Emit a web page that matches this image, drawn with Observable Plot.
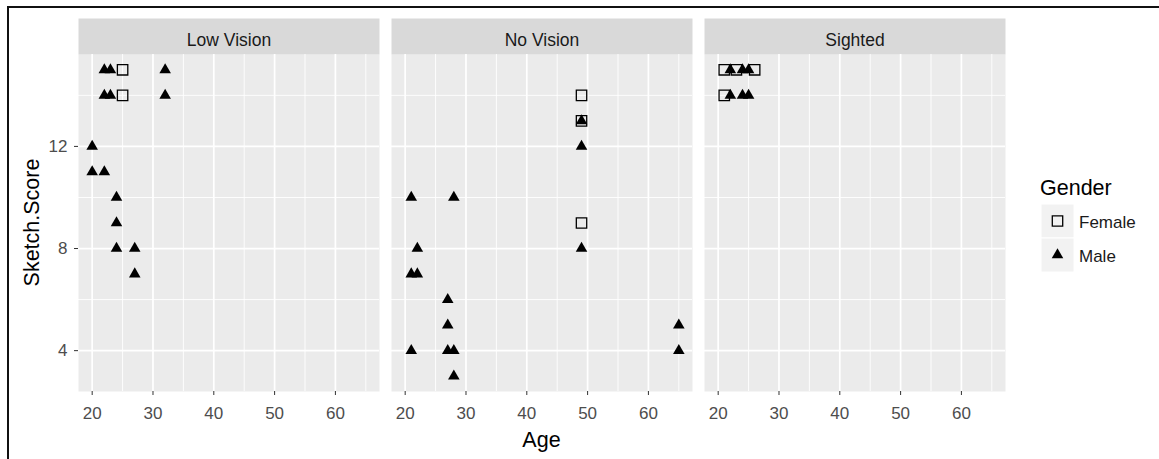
<!DOCTYPE html>
<html>
<head>
<meta charset="utf-8">
<script src="https://cdn.jsdelivr.net/npm/d3@7"></script>
<script src="https://cdn.jsdelivr.net/npm/@observablehq/plot@0.6"></script>
<style>
  html, body { margin: 0; padding: 0; background: #fff; }
  #figure { position: relative; width: 1159px; height: 459px; overflow: hidden; font-family: "Liberation Sans", Arial, sans-serif; }
  #chart { position: absolute; left: 0; top: 0; }
  #edge { position: absolute; left: 7px; top: 6px; right: -10px; bottom: -10px; border-top: 2px solid #111; border-left: 2px solid #111; pointer-events: none; }
</style>
</head>
<body>
<div id="figure">
  <div id="chart"></div>
  <div id="edge"></div>
</div>
<script>
// Facet panels and legend entries
const visionGroups = ["Low Vision", "No Vision", "Sighted"];
const genders = ["Female", "Male"];

// Low Vision participants
const lowVisionAge    = [22, 23, 25, 32, 22, 23, 25, 32, 20, 20, 22, 24, 24, 24, 27, 27];
const lowVisionScore  = [15, 15, 15, 15, 14, 14, 14, 14, 12, 11, 11, 10, 9, 8, 8, 7];
const lowVisionGender = ["Male", "Male", "Female", "Male", "Male", "Male", "Female", "Male",
                         "Male", "Male", "Male", "Male", "Male", "Male", "Male", "Male"];

// No Vision participants
const noVisionAge    = [21, 28, 22, 21, 22, 27, 27, 21, 27, 28, 28, 49, 49, 49, 49, 49, 49, 65, 65];
const noVisionScore  = [10, 10, 8, 7, 7, 6, 5, 4, 4, 4, 3, 14, 13, 13, 12, 9, 8, 5, 4];
const noVisionGender = ["Male", "Male", "Male", "Male", "Male", "Male", "Male", "Male", "Male", "Male",
                        "Male", "Female", "Female", "Male", "Male", "Female", "Male", "Male", "Male"];

// Sighted participants
const sightedAge    = [21, 22, 23, 24, 25, 26, 21, 22, 24, 25];
const sightedScore  = [15, 15, 15, 15, 15, 15, 14, 14, 14, 14];
const sightedGender = ["Female", "Male", "Female", "Male", "Male", "Female", "Female", "Male", "Male", "Male"];

// Axis ticks and grid
const xTicks = [20, 30, 40, 50, 60];
const xMinor = [25, 35, 45, 55, 65];
const yTicks = [4, 8, 12];
const yMinor = [6, 10, 14];

const rows = [];
function addGroup(group, ages, scores, sexes) {
  ages.forEach((a, i) => rows.push({vision: group, age: a, score: scores[i], gender: sexes[i]}));
}
addGroup("Low Vision", lowVisionAge, lowVisionScore, lowVisionGender);
addGroup("No Vision", noVisionAge, noVisionScore, noVisionGender);
addGroup("Sighted", sightedAge, sightedScore, sightedGender);

// ggplot-like expansion (5% of the data range on each side)
function expand(values) {
  const [lo, hi] = d3.extent(values);
  const pad = (hi - lo) * 0.05;
  return [lo - pad, hi + pad];
}
const xDomain = expand(rows.map(d => d.age));
const yDomain = expand(rows.map(d => d.score));

const W = 1159, H = 459;
const mL = 78, mR = 154, mT = 54, mB = 68;
const stripH = 36;
const panelH = H - mT - mB;
const FONT = "'Liberation Sans', Arial, sans-serif";

const symbolFor = {Female: "square", Male: "triangle"};
const radiusFor = {Female: 5.87, Male: 4.3};

const chart = Plot.plot({
  width: W,
  height: H,
  marginLeft: mL, marginRight: mR, marginTop: mT, marginBottom: mB,
  facet: {marginTop: 0, marginRight: 0, marginBottom: 0, marginLeft: 0},
  style: {fontFamily: FONT, background: "transparent", overflow: "visible"},
  fx: {domain: visionGroups, paddingInner: 0.0385, paddingOuter: 0, axis: null, label: null},
  x: {domain: xDomain},
  y: {domain: yDomain},
  marks: [
    // panel background and strip
    Plot.frame({fill: "#EBEBEB"}),
    Plot.frame({fill: "#D9D9D9", insetTop: -stripH, insetBottom: panelH}),
    // minor and major grid lines
    Plot.gridX(xMinor, {stroke: "#fff", strokeOpacity: 1, strokeWidth: 0.9}),
    Plot.gridY(yMinor, {stroke: "#fff", strokeOpacity: 1, strokeWidth: 0.9}),
    Plot.gridX(xTicks, {stroke: "#fff", strokeOpacity: 1, strokeWidth: 1.7}),
    Plot.gridY(yTicks, {stroke: "#fff", strokeOpacity: 1, strokeWidth: 1.7}),
    // axes
    Plot.axisX(xTicks, {tickSize: 4, tickPadding: 11, fontSize: 17, stroke: "#333", fill: "#4D4D4D", label: null}),
    Plot.axisY(yTicks, {tickSize: 4, tickPadding: 7, fontSize: 17, stroke: "#333", fill: "#4D4D4D", label: null}),
    // strip labels
    Plot.text(visionGroups, {fx: d => d, text: d => d, frameAnchor: "top", lineAnchor: "middle",
                             dy: -14.5, fontSize: 17.5, fill: "#1A1A1A"}),
    // participants
    Plot.dot(rows.filter(d => d.gender === "Female"), {
      fx: "vision", x: "age", y: "score", symbol: symbolFor.Female, r: radiusFor.Female,
      stroke: "#000", strokeWidth: 1.3, fill: "none"
    }),
    Plot.dot(rows.filter(d => d.gender === "Male"), {
      fx: "vision", x: "age", y: "score", symbol: symbolFor.Male, r: radiusFor.Male,
      fill: "#000", stroke: "none"
    })
  ]
});

document.getElementById("chart").appendChild(chart);

// Axis titles, centred on the panel area
const svg = d3.select(chart);
const fxRange = chart.scale("fx").range;
const yRange = chart.scale("y").range;
const centerX = (fxRange[0] + fxRange[1]) / 2;
const centerY = (yRange[0] + yRange[1]) / 2;

svg.append("text")
  .attr("x", centerX).attr("y", 446.5)
  .attr("text-anchor", "middle")
  .attr("font-family", FONT).attr("font-size", 21.5).attr("fill", "#000")
  .text("Age");

svg.append("text")
  .attr("transform", `translate(38.5,${centerY}) rotate(-90)`)
  .attr("text-anchor", "middle")
  .attr("font-family", FONT).attr("font-size", 21.5).attr("fill", "#000")
  .text("Sketch.Score");

// Gender legend
const legend = svg.append("g").attr("font-family", FONT).attr("text-anchor", "start");
legend.append("text")
  .attr("x", 1040).attr("y", 195)
  .attr("text-anchor", "start")
  .attr("font-size", 21.5).attr("fill", "#000")
  .text("Gender");

const keyX = 1041, keyY = 204, keySize = 34;
const d3Symbols = {square: d3.symbolSquare, triangle: d3.symbolTriangle};
genders.forEach((g, i) => {
  const y0 = keyY + i * keySize;
  legend.append("rect")
    .attr("x", keyX).attr("y", y0).attr("width", keySize - 1).attr("height", keySize)
    .attr("fill", "#F2F2F2").attr("stroke", "#fff").attr("stroke-width", 1);
  const path = d3.symbol().type(d3Symbols[symbolFor[g]]).size(Math.PI * radiusFor[g] ** 2)();
  const sym = legend.append("path")
    .attr("d", path)
    .attr("transform", `translate(${keyX + (keySize - 1) / 2},${y0 + keySize / 2})`);
  if (g === "Female") sym.attr("fill", "none").attr("stroke", "#000").attr("stroke-width", 1.3);
  else sym.attr("fill", "#000");
  legend.append("text")
    .attr("x", 1079).attr("y", y0 + 24)
    .attr("text-anchor", "start")
    .attr("font-size", 17).attr("fill", "#1A1A1A")
    .text(g);
});
</script>
</body>
</html>
